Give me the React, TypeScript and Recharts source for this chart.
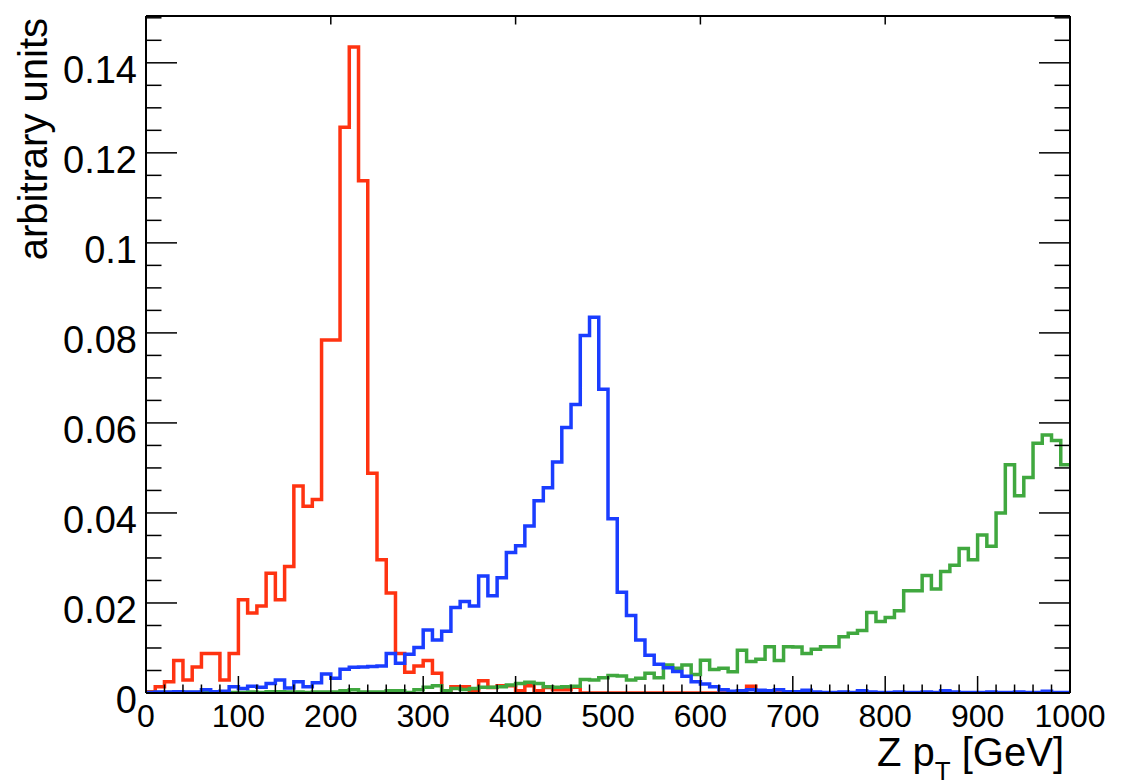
import { LineChart, Line, XAxis, YAxis } from "recharts"

// lower edges of the 100 bins (10 GeV wide)
const binLow = Array.from({ length: 100 }, (_, i) => i * 10)

const redValues = [
  0.0003, 0.0014, 0.0025, 0.0072, 0.0029, 0.0058, 0.0088, 0.0088, 0.0029, 0.0088,
  0.0207, 0.0178, 0.0193, 0.0266, 0.0207, 0.0281, 0.046, 0.0415, 0.043, 0.0784,
  0.0784, 0.1257, 0.1435, 0.1138, 0.0488, 0.0296, 0.0222, 0.0088, 0.0046, 0.006,
  0.0072, 0.0044, 0.0, 0.0014, 0.0014, 0.0004, 0.0027, 0.0012, 0.0016, 0.0016,
  0.0005, 0.0016, 0.0005, 0.0012, 0.0007, 0.0007, 0.0013, 0.0, 0.0, 0.0,
  0.0, 0.0, 0.0, 0.0, 0.0, 0.0, 0.0, 0.0, 0.0, 0.0,
  0.0, 0.0, 0.0, 0.0, 0.0, 0.0015, 0.0003, 0.0004, 0.0, 0.0,
  0.0, 0.0002, 0.0, 0.0, 0.0, 0.0, 0.0, 0.0002, 0.0, 0.0,
  0.0, 0.0, 0.0, 0.0, 0.0, 0.0, 0.0003, 0.0, 0.0, 0.0,
  0.0, 0.0, 0.0, 0.0, 0.0, 0.0, 0.0, 0.0, 0.0, 0.0,
]

const blueValues = [
  0.0001, 0.0002, 0.0002, 0.0003, 0.0002, 0.0002, 0.0007, 0.0003, 0.0004, 0.0014,
  0.001, 0.0015, 0.0013, 0.0021, 0.0029, 0.0011, 0.0025, 0.0014, 0.0023, 0.0042,
  0.0033, 0.0053, 0.0057, 0.0058, 0.0059, 0.006, 0.0088, 0.0066, 0.0086, 0.0101,
  0.014, 0.0118, 0.0137, 0.019, 0.0203, 0.0193, 0.026, 0.0216, 0.0256, 0.0312,
  0.0327, 0.0371, 0.0427, 0.0456, 0.0513, 0.059, 0.0641, 0.0794, 0.0835, 0.0675,
  0.0387, 0.0224, 0.0172, 0.0118, 0.0084, 0.0064, 0.0056, 0.0048, 0.0037, 0.0025,
  0.002, 0.0014, 0.0007, 0.0004, 0.0005, 0.0007, 0.0006, 0.0005, 0.0007, 0.0003,
  0.0003, 0.0006, 0.0002, 0.0001, 0.0001, 0.0002, 0.0001, 0.0005, 0.0002, 0.0001,
  0.0001, 0.0002, 0.0001, 0.0001, 0.0002, 0.0001, 0.0005, 0.0002, 0.0001, 0.0001,
  0.0001, 0.0002, 0.0001, 0.0001, 0.0002, 0.0001, 0.0001, 0.0004, 0.0001, 0.0001,
]

const greenValues = [
  0.0001, 0.0001, 0.0001, 0.0001, 0.0001, 0.0001, 0.0003, 0.0001, 0.0002, 0.0001,
  0.0001, 0.0002, 0.0001, 0.0003, 0.0003, 0.0002, 0.0002, 0.0001, 0.0002, 0.0002,
  0.0002, 0.0005, 0.0007, 0.0002, 0.0002, 0.0002, 0.0005, 0.0005, 0.0001, 0.0007,
  0.0013, 0.0016, 0.0005, 0.001, 0.0008, 0.001, 0.0013, 0.0013, 0.0014, 0.0018,
  0.0021, 0.0024, 0.0021, 0.0014, 0.0013, 0.0014, 0.0015, 0.003, 0.0029, 0.0034,
  0.0039, 0.0038, 0.0029, 0.0033, 0.0044, 0.0034, 0.0062, 0.0055, 0.0062, 0.0041,
  0.0073, 0.0052, 0.0055, 0.0047, 0.0095, 0.007, 0.0075, 0.0103, 0.0072, 0.0103,
  0.0102, 0.0088, 0.0097, 0.0103, 0.0103, 0.0125, 0.0133, 0.0139, 0.0179, 0.0159,
  0.0168, 0.0183, 0.0227, 0.0227, 0.0261, 0.0231, 0.027, 0.0284, 0.0321, 0.0296,
  0.0351, 0.0326, 0.04, 0.0507, 0.0438, 0.0479, 0.0555, 0.0573, 0.0561, 0.0507,
]

const xTickLabels = ["0", "100", "200", "300", "400", "500", "600", "700", "800", "900", "1000"]
const yTickLabels = ["0", "0.02", "0.04", "0.06", "0.08", "0.1", "0.12", "0.14"]

// minor ticks: 5 per x division (every 20), 4 per y division (every 0.005)
const xTicks = Array.from({ length: 51 }, (_, i) => i * 20)
const yTicks = Array.from({ length: 31 }, (_, i) => i * 0.005)

// step histogram: one point per lower bin edge plus the closing edge at 1000
const data = [...binLow, 1000].map((x, i) => {
  const k = Math.min(i, binLow.length - 1)
  return { x, red: redValues[k], blue: blueValues[k], green: greenValues[k] }
})

const font = "'Liberation Sans', Arial, Helvetica, sans-serif"

function XTick(props: any) {
  const { x, y, index, top } = props
  const major = index % 5 === 0
  const len = major ? 17 : 8.5
  return (
    <g>
      <line x1={x} x2={x} y1={y} y2={top ? y + len : y - len} stroke="#000" strokeWidth={1.5} />
      {!top && major && (
        <text x={x} y={y + 34} textAnchor="middle" fontSize={32} fontFamily={font} fill="#000">
          {xTickLabels[index / 5]}
        </text>
      )}
    </g>
  )
}

function YTick(props: any) {
  const { x, y, index, right } = props
  const major = index % 4 === 0
  const len = major ? 31 : 15.5
  return (
    <g>
      <line x1={x} x2={right ? x - len : x + len} y1={y} y2={y} stroke="#000" strokeWidth={1.5} />
      {!right && major && (
        <text x={x - 9} y={y + 20} textAnchor="end" fontSize={38} fontFamily={font} fill="#000">
          {yTickLabels[index / 4]}
        </text>
      )}
    </g>
  )
}

function XTitle() {
  return (
    <text x={1064} y={766} textAnchor="end" fontSize={40} fontFamily={font} fill="#000">
      Z p
      <tspan fontSize={26} dy={14}>T</tspan>
      <tspan dy={-14}> [GeV]</tspan>
    </text>
  )
}

function YTitle() {
  return (
    <text
      x={47}
      y={18}
      textAnchor="end"
      transform="rotate(-90 47 18)"
      fontSize={40}
      fontFamily={font}
      fill="#000"
    >
      arbitrary units
    </text>
  )
}

export default function App() {
  const axisLine = { stroke: "#000", strokeWidth: 2 }
  return (
    <div style={{ position: "absolute", left: 0, top: 0, background: "#fff" }}>
      <LineChart width={1135} height={783} data={data} margin={{ top: 0, right: 0, bottom: 0, left: 0 }}>
        <XAxis
          dataKey="x"
          type="number"
          domain={[0, 1000]}
          ticks={xTicks}
          interval={0}
          height={90}
          tickSize={0}
          tickMargin={0}
          axisLine={axisLine}
          tickLine={false}
          tick={<XTick />}
          label={<XTitle />}
          allowDataOverflow
        />
        <XAxis
          xAxisId="top"
          orientation="top"
          type="number"
          domain={[0, 1000]}
          ticks={xTicks}
          interval={0}
          height={16}
          tickSize={0}
          tickMargin={0}
          axisLine={axisLine}
          tickLine={false}
          tick={<XTick top />}
          allowDataOverflow
        />
        <YAxis
          type="number"
          domain={[0, 0.1504]}
          ticks={yTicks}
          interval={0}
          width={146}
          tickSize={0}
          tickMargin={0}
          axisLine={axisLine}
          tickLine={false}
          tick={<YTick />}
          label={<YTitle />}
          allowDataOverflow
        />
        <YAxis
          yAxisId="right"
          orientation="right"
          type="number"
          domain={[0, 0.1504]}
          ticks={yTicks}
          interval={0}
          width={65}
          tickSize={0}
          tickMargin={0}
          axisLine={axisLine}
          tickLine={false}
          tick={<YTick right />}
          allowDataOverflow
        />
        <Line type="stepAfter" dataKey="red" stroke="#ff3311" strokeWidth={3.5} dot={false} isAnimationActive={false} />
        <Line type="stepAfter" dataKey="green" stroke="#40a83f" strokeWidth={3.5} dot={false} isAnimationActive={false} />
        <Line type="stepAfter" dataKey="blue" stroke="#1a3dff" strokeWidth={3.5} dot={false} isAnimationActive={false} />
      </LineChart>
    </div>
  )
}
